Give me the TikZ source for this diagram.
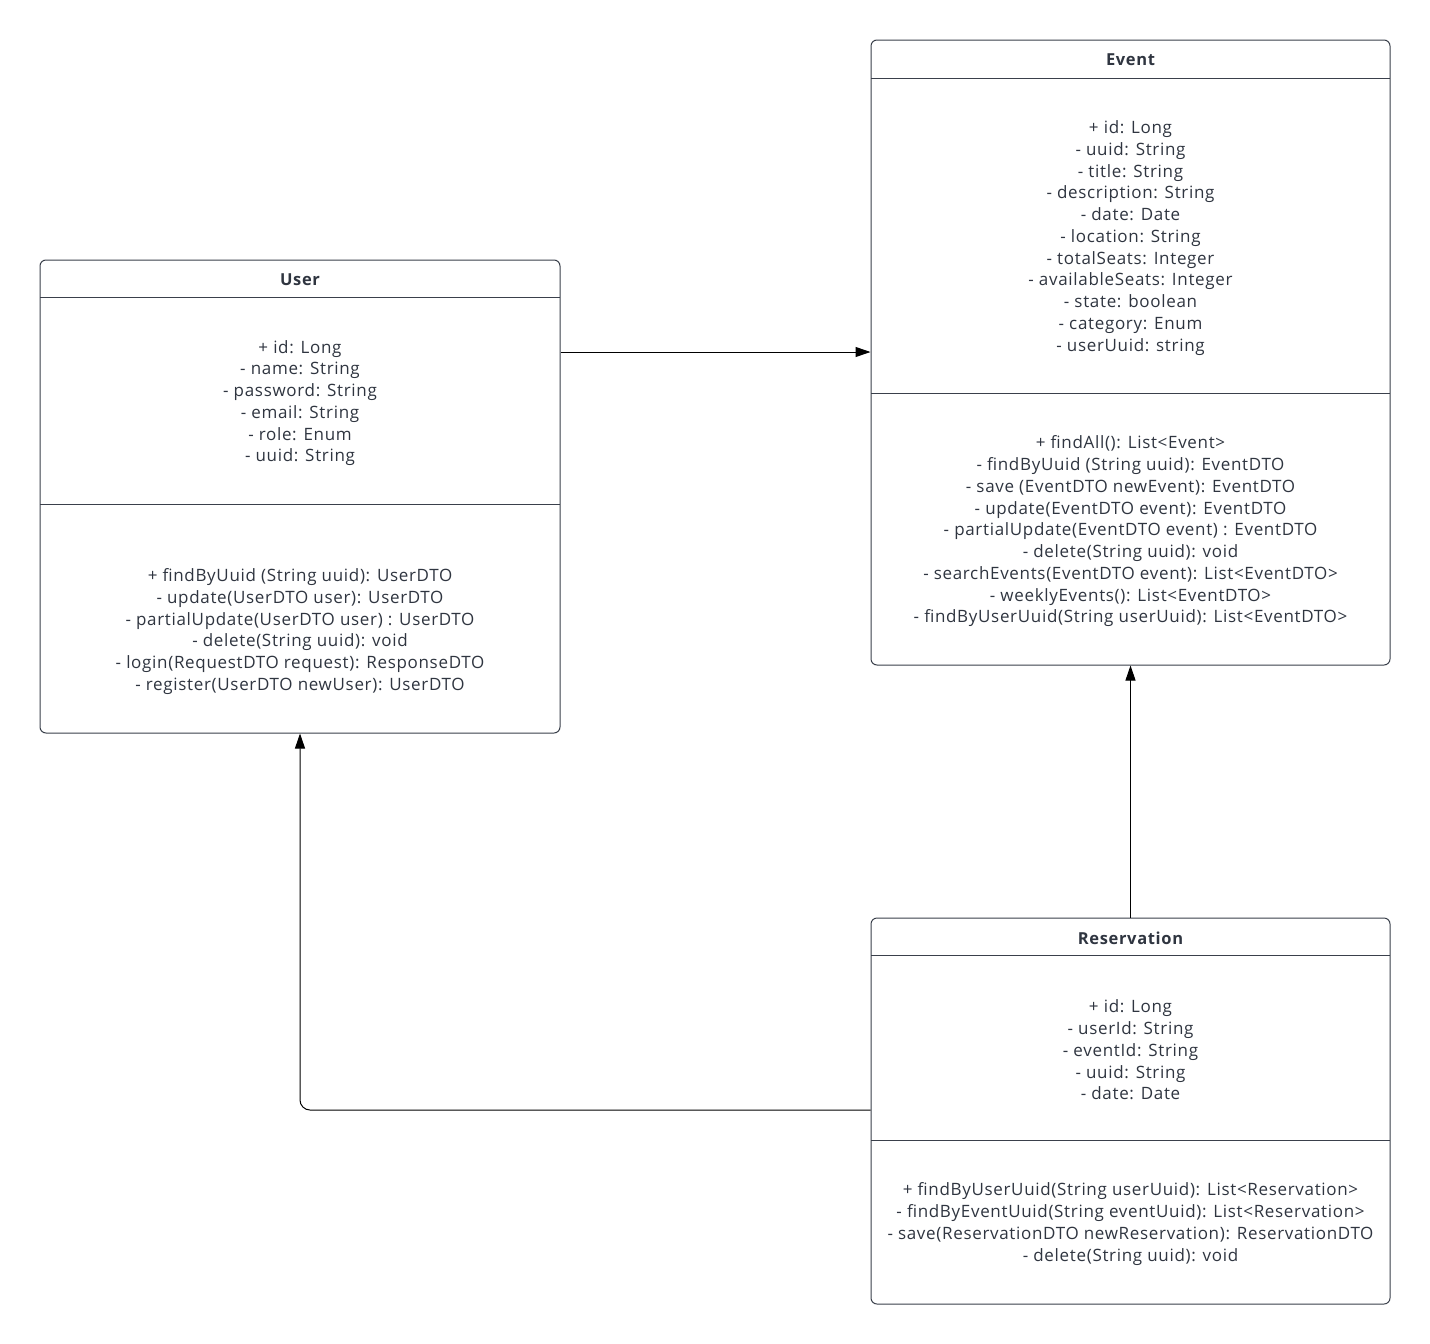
\documentclass[tikz,border=0pt]{standalone}
\usepackage{fontspec}
\setmainfont{Open Sans}[LetterSpace=4]
\usetikzlibrary{arrows.meta}
\definecolor{boxline}{HTML}{3A404B}
\definecolor{ink}{HTML}{2F3540}
\begin{document}
\begin{tikzpicture}[x=1pt,y=-1pt,
  classbox/.style={draw=boxline,line width=1pt,rounded corners=6pt,inner sep=0pt},
  divider/.style={draw=boxline,line width=1pt},
  title/.style={font=\fontsize{16.5}{20}\selectfont\bfseries,text=ink},
  members/.style={font=\fontsize{17}{21.75}\selectfont,text=ink,align=center},
  assoc/.style={draw=black,line width=1pt,-{Triangle[length=15pt,width=10pt]}}]
\useasboundingbox[fill=white] (0,0) rectangle (1430,1344);

% User class
\node[classbox,minimum width=520pt,minimum height=473pt] (user) at (300,496.5) {};
\draw[divider] (40,297) -- (560,297);
\draw[divider] (40,504) -- (560,504);
\node[title] (usertitle) at (300,280) {User};
\node[members] (userattr) at (300,403) {+ id: Long\\- name: String\\- password: String\\- email: String\\- role: Enum\\- uuid: String};
\node[members] (userops) at (300,631.5) {+ findByUuid (String uuid): UserDTO\\- update(UserDTO user): UserDTO\\- partialUpdate(UserDTO user) : UserDTO\\- delete(String uuid): void\\- login(RequestDTO request): ResponseDTO\\- register(UserDTO newUser): UserDTO};

% Event class
\node[classbox,minimum width=519pt,minimum height=625pt] (event) at (1130.5,352.5) {};
\draw[divider] (871,78) -- (1390,78);
\draw[divider] (871,393) -- (1390,393);
\node[title] (eventtitle) at (1130.5,60) {Event};
\node[members] (eventattr) at (1130.5,238) {+ id: Long\\- uuid: String\\- title: String\\- description: String\\- date: Date\\- location: String\\- totalSeats: Integer\\- availableSeats: Integer\\- state: boolean\\- category: Enum\\- userUuid: string};
\node[members] (eventops) at (1130.5,531.5) {+ findAll(): List<Event>\\- findByUuid (String uuid): EventDTO\\- save (EventDTO newEvent): EventDTO\\- update(EventDTO event): EventDTO\\- partialUpdate(EventDTO event) : EventDTO\\- delete(String uuid): void\\- searchEvents(EventDTO event): List<EventDTO>\\- weeklyEvents(): List<EventDTO>\\- findByUserUuid(String userUuid): List<EventDTO>};

% Reservation class
\node[classbox,minimum width=519pt,minimum height=386pt] (res) at (1130.5,1111) {};
\draw[divider] (871,955) -- (1390,955);
\draw[divider] (871,1140) -- (1390,1140);
\node[title] (restitle) at (1130.5,938) {Reservation};
\node[members] (resattr) at (1130.5,1050) {+ id: Long\\- userId: String\\- eventId: String\\- uuid: String\\- date: Date};
\node[members] (resops) at (1130.5,1224) {+ findByUserUuid(String userUuid): List<Reservation>\\- findByEventUuid(String eventUuid): List<Reservation>\\- save(ReservationDTO newReservation): ReservationDTO\\- delete(String uuid): void};

% Associations
\draw[assoc] (user.east |- 0,352) -- (event.west |- 0,352);
\draw[assoc] (res.north) -- (event.south);
\draw[assoc,rounded corners=10pt] (res.west |- 0,1110) -| (user.south);
\end{tikzpicture}
\end{document}
